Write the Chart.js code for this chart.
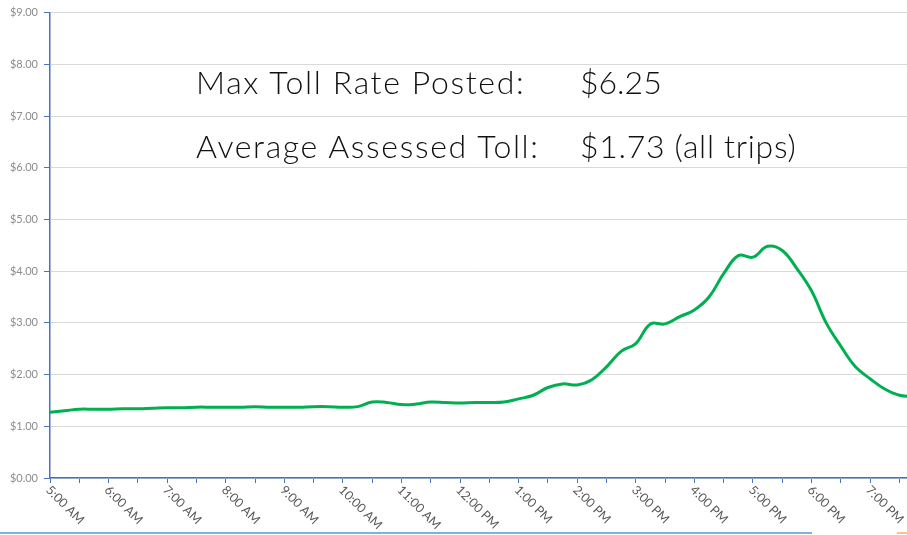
<!DOCTYPE html>
<html>
<head>
<meta charset="utf-8">
<title>Toll rate by time of day</title>
<script src="https://cdn.jsdelivr.net/npm/chart.js@4.4.1/dist/chart.umd.min.js"></script>
<style>
  body { margin: 0; background: #fff; }
  #wrap { position: relative; width: 907px; height: 535px; overflow: hidden; }
  #toll-chart { position: absolute; left: 0; top: 0; }
  .note { position: absolute; font-family: Lato, sans-serif; font-weight: 300; font-size: 32px; letter-spacing: 1.65px; color: #111; white-space: nowrap; line-height: 1; }
  .bottom-rule { position: absolute; left: 0; top: 532px; width: 812px; height: 2px; background: #7fb3de; }
  .bottom-mark { position: absolute; left: 897px; top: 532px; width: 10px; height: 2px; background: #f6c48f; }
</style>
</head>
<body>
<div id="wrap">
  <canvas id="toll-chart" width="907" height="535"></canvas>
  <div class="note" style="left:196px; top:66px;">Max Toll Rate Posted:</div>
  <div class="note" style="left:580px; top:66px; letter-spacing:0;">$6.25</div>
  <div class="note" style="left:196px; top:130px;">Average Assessed Toll:</div>
  <div class="note" style="left:580px; top:130px; letter-spacing:0.7px;">$1.73 (all trips)</div>
  <div class="bottom-rule"></div>
  <div class="bottom-mark"></div>
</div>
<script>
// 15 minute readings, 5:00 AM - 7:45 PM
const times = [
  "5:00 AM", "5:15 AM", "5:30 AM", "5:45 AM", "6:00 AM", "6:15 AM", "6:30 AM", "6:45 AM",
  "7:00 AM", "7:15 AM", "7:30 AM", "7:45 AM", "8:00 AM", "8:15 AM", "8:30 AM", "8:45 AM",
  "9:00 AM", "9:15 AM", "9:30 AM", "9:45 AM", "10:00 AM", "10:15 AM", "10:30 AM", "10:45 AM",
  "11:00 AM", "11:15 AM", "11:30 AM", "11:45 AM", "12:00 PM", "12:15 PM", "12:30 PM", "12:45 PM",
  "1:00 PM", "1:15 PM", "1:30 PM", "1:45 PM", "2:00 PM", "2:15 PM", "2:30 PM", "2:45 PM",
  "3:00 PM", "3:15 PM", "3:30 PM", "3:45 PM", "4:00 PM", "4:15 PM", "4:30 PM", "4:45 PM",
  "5:00 PM", "5:15 PM", "5:30 PM", "5:45 PM", "6:00 PM", "6:15 PM", "6:30 PM", "6:45 PM",
  "7:00 PM", "7:15 PM", "7:30 PM", "7:45 PM"
];

const tolls = [
  1.27, 1.30, 1.33, 1.33, 1.33, 1.34, 1.34, 1.35,
  1.36, 1.36, 1.37, 1.37, 1.37, 1.37, 1.38, 1.37,
  1.37, 1.37, 1.38, 1.38, 1.37, 1.38, 1.47, 1.46,
  1.42, 1.43, 1.47, 1.46, 1.45, 1.46, 1.46, 1.47,
  1.53, 1.60, 1.75, 1.82, 1.80, 1.90, 2.15, 2.45,
  2.60, 2.98, 2.98, 3.12, 3.25, 3.50, 3.95, 4.30,
  4.27, 4.48, 4.40, 4.05, 3.62, 3.00, 2.55, 2.15,
  1.92, 1.72, 1.60, 1.58
];

const tickLabels = [
  "5:00 AM", "6:00 AM", "7:00 AM", "8:00 AM", "9:00 AM", "10:00 AM", "11:00 AM",
  "12:00 PM", "1:00 PM", "2:00 PM", "3:00 PM", "4:00 PM", "5:00 PM", "6:00 PM", "7:00 PM"
];

const yTicks = [0, 1, 2, 3, 4, 5, 6, 7, 8, 9];

// "5:15 PM" -> 17.25
function toHour(label) {
  const [clock, ampm] = label.split(" ");
  let [h, m] = clock.split(":").map(Number);
  if (ampm === "PM" && h !== 12) h += 12;
  if (ampm === "AM" && h === 12) h = 0;
  return h + m / 60;
}

const axisBlue = "#4472c4";

// labels run down-right from each tick, chart.js only rotates the other way
const slantedLabels = {
  id: "slantedLabels",
  afterDraw(chart) {
    const ctx = chart.ctx;
    const xScale = chart.scales.x;
    ctx.save();
    ctx.font = "12.5px Lato";
    ctx.fillStyle = "#595959";
    ctx.textAlign = "left";
    ctx.textBaseline = "middle";
    tickLabels.forEach((label) => {
      const x = xScale.getPixelForValue(toHour(label));
      ctx.save();
      ctx.translate(x - 2, xScale.top + 10);
      ctx.rotate(Math.PI / 4);
      ctx.fillText(label, 0, 0);
      ctx.restore();
    });
    ctx.restore();
  },
};

new Chart(document.getElementById("toll-chart"), {
  type: "line",
  data: {
    datasets: [
      {
        data: times.map((t, i) => ({ x: toHour(t), y: tolls[i] })),
        borderColor: "#00b050",
        borderWidth: 3,
        pointRadius: 0,
        tension: 0.4,
        fill: false,
      },
    ],
  },
  options: {
    responsive: false,
    animation: false,
    layout: { padding: { top: 10, right: 0, left: 0, bottom: 0 } },
    plugins: {
      legend: { display: false },
      tooltip: { enabled: false },
    },
    scales: {
      x: {
        type: "linear",
        min: toHour(times[0]),
        max: 19.63,
        afterFit: (scale) => { scale.height = 57; },
        border: { color: axisBlue, width: 1.5 },
        grid: {
          drawOnChartArea: false,
          drawTicks: true,
          tickLength: 5,
          color: axisBlue,
        },
        ticks: { display: false, stepSize: 0.5, includeBounds: false },
      },
      y: {
        min: yTicks[0],
        max: yTicks[yTicks.length - 1],
        afterFit: (scale) => { scale.width = 50; },
        border: { color: axisBlue, width: 1.5 },
        grid: {
          color: "#d9d9d9",
          tickColor: axisBlue,
          tickLength: 6,
        },
        ticks: {
          stepSize: 1,
          padding: 6,
          color: "#8c8c8c",
          font: { family: "Lato", size: 11 },
          callback: (v) => "$" + v.toFixed(2),
        },
      },
    },
  },
  plugins: [slantedLabels],
});
</script>
</body>
</html>
